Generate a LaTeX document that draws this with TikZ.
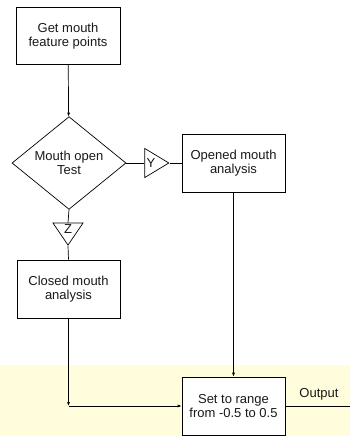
\documentclass[tikz,border=0pt]{standalone}
\usepackage{fontspec}
\setmainfont{Liberation Sans}
\usepackage{tikz}
\usetikzlibrary{arrows.meta, positioning, shapes.geometric}

\begin{document}
\begin{tikzpicture}[x=1pt, y=-1pt,
    every node/.style={font=\fontsize{13}{14.5}\selectfont, align=center, text=black!90},
    block/.style={draw, fill=white, line width=0.7pt, minimum width=103pt, minimum height=58pt, inner sep=0pt},
    test/.style={draw, diamond, fill=white, line width=0.7pt, minimum width=114pt, minimum height=78pt, inner sep=0pt},
    tag/.style={draw, isosceles triangle, isosceles triangle stretches, fill=white, line width=0.7pt, inner sep=0pt},
    link/.style={line width=0.7pt},
    flow/.style={line width=0.7pt, -{Latex[length=4pt, width=3pt]}}]
    \useasboundingbox (0,0) rectangle (350,436);

    % Band
    \fill[yellow!14] (0,365) rectangle (350,436);

    % Blocks
    \node[block, minimum width=104pt, minimum height=57pt] (getpts) at (68,36) {Get mouth\\feature points};
    \node[test] (opentest) at (69,163) {Mouth open\\Test};
    \node[tag, shape border rotate=0, minimum width=29pt, minimum height=24pt,
          label={[xshift=-2pt]center:Y}] (ytag) at (153,163) {};
    \node[block] (opened) at (233.5,163) {Opened mouth\\analysis};
    \node[tag, shape border rotate=270, minimum width=30pt, minimum height=22pt,
          label={[yshift=2pt]center:Z}] (ztag) at (68,231) {};
    \node[block] (closed) at (68.5,289) {Closed mouth\\analysis};
    \node[block] (setrange) at (233.5,406) {Set to range\\from -0.5 to 0.5};
    \coordinate (corner) at (closed.south |- setrange.west);
    \coordinate (outend) at (350,406);

    % Connectors
    \draw[flow] (getpts) -- (opentest);
    \draw[link] (opentest.east) -- (ytag.west);
    \draw[link] (ytag.apex) -- (opened.west);
    \draw[link] (opentest.south) -- (ztag.north);
    \draw[link] (ztag.apex) -- (closed.north);
    \draw[flow] (closed) -- (corner);
    \draw[flow] (corner) -- (setrange.west);
    \draw[flow] (opened) -- (setrange);
    \draw[link] (setrange.east) -- (outend) node[pos=0.52, above=2pt] {Output};
\end{tikzpicture}
\end{document}
